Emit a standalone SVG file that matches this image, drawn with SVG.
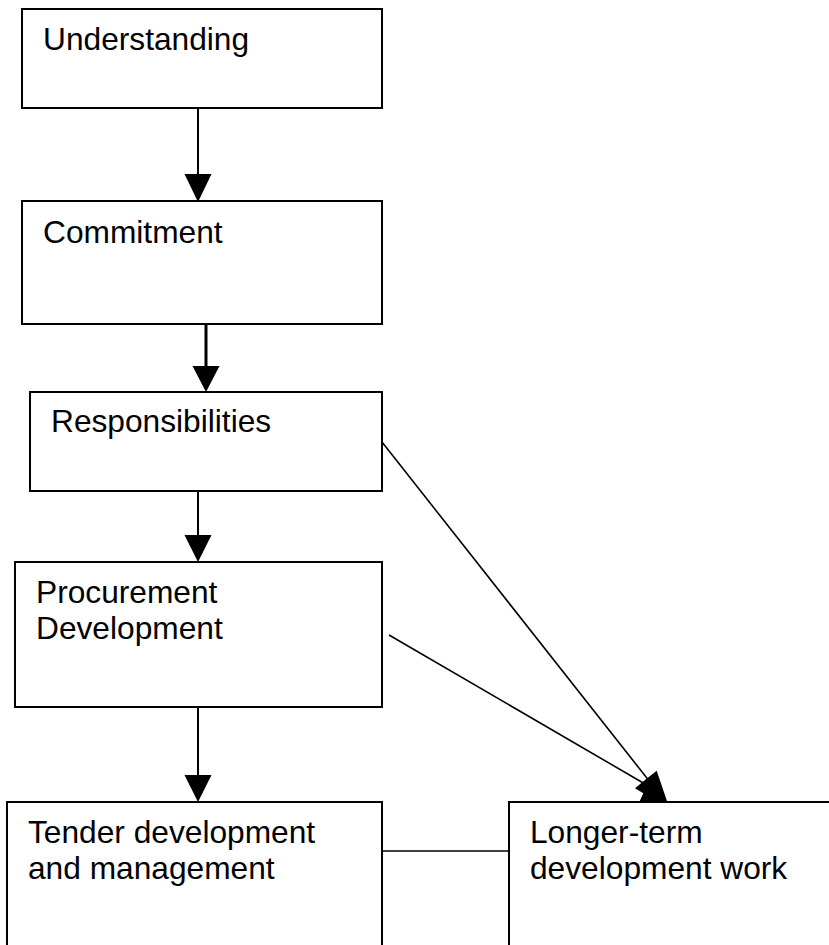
<svg xmlns="http://www.w3.org/2000/svg" width="829" height="945" viewBox="0 0 829 945">
<style>
.box{fill:#fff;stroke:#000;stroke-width:2}
.lbl{font-family:"Liberation Sans",Arial,sans-serif;font-size:31.7px;fill:#000}
.conn{stroke:#000;fill:none}
.head{fill:#000;stroke:none}
</style>
<rect width="829" height="945" fill="#fff"/>
<g id="connectors">
  <line class="conn" x1="198" y1="108" x2="198" y2="176" stroke-width="2"/>
  <polygon class="head" points="184.5,174 211.5,174 198,202"/>
  <line class="conn" x1="206" y1="324" x2="206" y2="368" stroke-width="3"/>
  <polygon class="head" points="192.5,366 219.5,366 206,392"/>
  <line class="conn" x1="198" y1="491" x2="198" y2="537" stroke-width="2"/>
  <polygon class="head" points="184.5,535 211.5,535 198,562"/>
  <line class="conn" x1="198" y1="707" x2="198" y2="777" stroke-width="2"/>
  <polygon class="head" points="184.5,775 211.5,775 198,802"/>
  <line class="conn" x1="382" y1="442" x2="650" y2="782" stroke-width="1.6"/>
  <line class="conn" x1="389" y1="635" x2="645" y2="784" stroke-width="1.6"/>
  <polygon class="head" points="656.7,770.7 667.3,802 639.3,802 643.3,793.3 635,788.3 645,780"/>
  <line class="conn" x1="382" y1="851" x2="509" y2="851" stroke-width="1.6"/>
</g>
<g id="node-understanding">
  <rect class="box" x="22" y="9" width="360" height="99"/>
  <text class="lbl" x="43" y="50">Understanding</text>
</g>
<g id="node-commitment">
  <rect class="box" x="22" y="201" width="360" height="123"/>
  <text class="lbl" x="43" y="242.5">Commitment</text>
</g>
<g id="node-responsibilities">
  <rect class="box" x="30" y="392" width="352" height="99"/>
  <text class="lbl" x="51" y="432.3">Responsibilities</text>
</g>
<g id="node-procurement">
  <rect class="box" x="15" y="562" width="367" height="145"/>
  <text class="lbl" x="36" y="602.7">Procurement</text>
  <text class="lbl" x="36" y="638.5">Development</text>
</g>
<g id="node-tender">
  <rect class="box" x="7" y="802" width="375" height="160"/>
  <text class="lbl" x="28" y="843.3">Tender development</text>
  <text class="lbl" x="28" y="879.3">and management</text>
</g>
<g id="node-longer">
  <rect class="box" x="509" y="802" width="340" height="160"/>
  <text class="lbl" x="530" y="843.3">Longer-term</text>
  <text class="lbl" x="530" y="879.3">development work</text>
</g>
</svg>
